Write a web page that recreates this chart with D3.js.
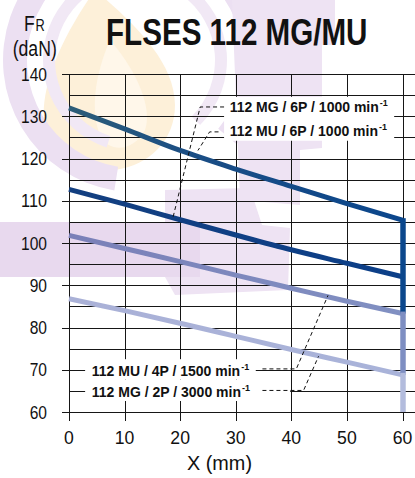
<!DOCTYPE html>
<html><head><meta charset="utf-8">
<script src="https://cdn.jsdelivr.net/npm/d3@7"></script>
<style>body{margin:0;background:#fff} svg{display:block}</style>
</head><body><svg id="c" width="415" height="478"></svg>
<script>
// ---- data ----
const xValues   = [0, 10, 20, 30, 40, 50, 60];
const seriesMU6P = [132.0, 127.0, 121.9, 117.5, 113.4, 109.3, 105.4];
const seriesMG6P = [112.7, 109.2, 105.5, 101.9, 98.4, 95.2, 92.0];
const seriesMU4P = [101.8, 98.7, 95.6, 92.4, 89.3, 86.2, 83.3];
const seriesMG2P = [86.8, 84.0, 81.0, 77.9, 74.8, 71.8, 68.8];
const seriesLabels = ["112 MU / 6P / 1000 min", "112 MG / 6P / 1000 min", "112 MU / 4P / 1500 min", "112 MG / 2P / 3000 min"];
const xTickValues = [0, 10, 20, 30, 40, 50, 60];
const yTickValues = [60, 70, 80, 90, 100, 110, 120, 130, 140];
const yMinorValues = [65, 75, 85, 95, 105, 115, 125, 135];
const titleText = "FLSES 112 MG/MU";
const xAxisTitle = "X (mm)";
// leader lines (data units): label end -> curve
const leaderMG6P = [[27.9, 132.2], [23.6, 132.2], [18.7, 106.0]];
const leaderMU6P = [[26.9, 126.3], [25.3, 126.3], [23.2, 121.9]];
const leaderMU4P = [[34.8, 70.2], [40.9, 70.2], [46.6, 87.6]];
const leaderMG2P = [[34.8, 65.1], [42.2, 65.1], [44.9, 73.2]];

// ---- setup ----
const svg = d3.select("#c");
const x = d3.scaleLinear().domain([0, 60]).range([69, 402.5]);
const y = d3.scaleLinear().domain([60, 140]).range([412, 74]);
const FONT = "'Liberation Sans', Arial, Helvetica, sans-serif";

// ---- watermark (faint logo) ----
const wm = svg.append("g").attr("class", "watermark");
wm.append("path")
  .attr("d", "M95,-10 C60,40 38,90 45,130 C52,165 85,175 115,170 C150,165 175,140 175,105 C175,60 130,20 95,-10 Z")
  .attr("fill", "#fdf0d9");
wm.append("path")
  .attr("d", "M110,40 C95,75 90,110 100,135 C110,155 135,150 145,130 C152,110 140,75 110,40 Z")
  .attr("fill", "#fff7ea");
wm.append("path")
  .attr("d", d3.arc()({innerRadius: 108, outerRadius: 132, startAngle: -Math.PI * 0.95, endAngle: Math.PI * 0.72}))
  .attr("transform", "translate(135,60)")
  .attr("fill", "#ece0f2");
wm.append("path")
  .attr("d", d3.arc()({innerRadius: 80, outerRadius: 92, startAngle: -Math.PI * 0.9, endAngle: Math.PI * 0.75}))
  .attr("transform", "translate(135,60)")
  .attr("fill", "#f1e8f5");
wm.append("path")
  .attr("d", "M232,0 L335,0 L335,45 L322,45 L322,148 L300,150 L300,205 L240,200 Z")
  .attr("fill", "#eee3f3");
wm.append("path")
  .attr("d", "M165,190 L250,188 L262,225 L290,228 L288,290 L175,295 L165,277 Z")
  .attr("fill", "#eee3f3");
wm.append("rect").attr("x", 0).attr("y", 222).attr("width", 200).attr("height", 55).attr("fill", "#e8d9ee");

// ---- grid ----
const grid = svg.append("g").attr("stroke", "#161616").attr("stroke-width", 1).attr("shape-rendering", "crispEdges");
grid.selectAll(".hmaj").data(yTickValues).join("line")
  .attr("x1", 62).attr("x2", 415)
  .attr("y1", d => Math.round(y(d)) + 0.5).attr("y2", d => Math.round(y(d)) + 0.5);
grid.selectAll(".hmin").data(yMinorValues).join("line")
  .attr("x1", x(0)).attr("x2", 415)
  .attr("y1", d => Math.round(y(d)) + 0.5).attr("y2", d => Math.round(y(d)) + 0.5);
grid.selectAll(".v").data(xTickValues).join("line")
  .attr("x1", d => Math.round(x(d)) + 0.5).attr("x2", d => Math.round(x(d)) + 0.5)
  .attr("y1", y(140)).attr("y2", y(60) + 9);

// ---- label background boxes ----
const boxes = [
  {x0: 27.9, x1: 58.5, y0: 134.6, y1: 124.2},
  {x0: 2.9, x1: 33.6, y0: 72.5, y1: 67.7},
  {x0: 2.9, x1: 39.8, y0: 67.7, y1: 62.6}
];
svg.append("g").selectAll("rect").data(boxes).join("rect")
  .attr("x", d => x(d.x0)).attr("y", d => y(d.y0))
  .attr("width", d => x(d.x1) - x(d.x0)).attr("height", d => y(d.y1) - y(d.y0))
  .attr("fill", "#fff");

// ---- gradients ----
const defs = svg.append("defs");
function grad(id, stops) {
  const g = defs.append("linearGradient").attr("id", id).attr("gradientUnits", "userSpaceOnUse")
    .attr("x1", x(0)).attr("x2", x(60)).attr("y1", 0).attr("y2", 0);
  stops.forEach(s => g.append("stop").attr("offset", s[0]).attr("stop-color", s[1]));
}
grad("g1", [["0%", "#2d5d78"], ["35%", "#1b4e84"], ["100%", "#0b468c"]]);
grad("g2", [["0%", "#133f80"], ["100%", "#0c3f88"]]);
grad("g3", [["0%", "#7a80b8"], ["100%", "#8190c2"]]);
grad("g4", [["0%", "#aab1d7"], ["100%", "#a9b3d9"]]);

// ---- series lines ----
const series = [
  {vals: seriesMU6P, stroke: "url(#g1)"},
  {vals: seriesMG6P, stroke: "url(#g2)"},
  {vals: seriesMU4P, stroke: "url(#g3)"},
  {vals: seriesMG2P, stroke: "url(#g4)"}
];
const line = d3.line().x(d => x(d[0])).y(d => y(d[1])).curve(d3.curveMonotoneX);
svg.append("g").selectAll("path").data(series).join("path")
  .attr("d", s => line(xValues.map((v, i) => [v, s.vals[i]])))
  .attr("fill", "none").attr("stroke", s => s.stroke).attr("stroke-width", 5);

// vertical end segment at x = 60
const last = xValues.length - 1;
const vsegs = [
  {a: seriesMU6P[last], b: seriesMU4P[last], c: "#0b478c"},
  {a: seriesMU4P[last], b: seriesMG2P[last], c: "#7e8ec2"},
  {a: seriesMG2P[last], b: 60, c: "#b3bcdd"}
];
svg.append("g").selectAll("line").data(vsegs).join("line")
  .attr("x1", x(60) + 0.5).attr("x2", x(60) + 0.5)
  .attr("y1", d => y(d.a) - 2).attr("y2", d => y(d.b))
  .attr("stroke", d => d.c).attr("stroke-width", 5.5);

// ---- leader lines ----
const lp = d3.line().x(d => x(d[0])).y(d => y(d[1]));
svg.append("g").selectAll("path").data([leaderMG6P, leaderMU6P, leaderMU4P, leaderMG2P]).join("path")
  .attr("d", lp).attr("fill", "none").attr("stroke", "#111").attr("stroke-width", 1)
  .attr("stroke-dasharray", "4,3");

// ---- series labels ----
const labelPos = [
  {t: seriesLabels[1], xv: 28.9, yv: 130.9},
  {t: seriesLabels[0], xv: 28.9, yv: 125.3},
  {t: seriesLabels[2], xv: 4.1, yv: 68.5},
  {t: seriesLabels[3], xv: 4.1, yv: 63.5}
];
const lab = svg.append("g").selectAll("text").data(labelPos).join("text")
  .attr("x", d => x(d.xv)).attr("y", d => y(d.yv))
  .attr("font-family", FONT).attr("font-weight", "bold").attr("font-size", 14).attr("fill", "#111");
lab.append("tspan").text(d => d.t);
lab.append("tspan").attr("dx", 1).attr("dy", -6).attr("font-size", 9).text("-1");

// ---- axes tick labels ----
svg.append("g").selectAll("text").data(yTickValues).join("text")
  .attr("x", 47).attr("y", d => y(d) + 6.6).attr("text-anchor", "end")
  .attr("font-family", FONT).attr("font-size", 18.5).attr("fill", "#111")
  .attr("textLength", d => String(d).length * 8.65).attr("lengthAdjust", "spacingAndGlyphs")
  .text(d => d);
svg.append("g").selectAll("text").data(xTickValues).join("text")
  .attr("x", d => x(d)).attr("y", 444).attr("text-anchor", "middle")
  .attr("font-family", FONT).attr("font-size", 19).attr("fill", "#111")
  .attr("textLength", d => String(d).length * 9.8).attr("lengthAdjust", "spacingAndGlyphs")
  .text(d => d);

// axis titles
svg.append("text").attr("x", 187).attr("y", 470)
  .attr("font-family", FONT).attr("font-size", 21).attr("fill", "#111")
  .attr("textLength", 65).attr("lengthAdjust", "spacingAndGlyphs").text(xAxisTitle);
const fr = svg.append("text").attr("transform", "translate(24,31) scale(0.8,1)")
  .attr("font-family", FONT).attr("fill", "#111");
fr.append("tspan").attr("font-size", 22).text("F");
fr.append("tspan").attr("font-size", 16).attr("dx", 1).text("R");
svg.append("text").attr("transform", "translate(12.7,55.5) scale(0.82,1)")
  .attr("font-family", FONT).attr("font-size", 21.5).attr("fill", "#111").text("(daN)");

// title
svg.append("text").attr("transform", "translate(106,45) scale(0.8,1)")
  .attr("font-family", FONT).attr("font-weight", "bold").attr("font-size", 37).attr("fill", "#111")
  .text(titleText);
</script></body></html>
